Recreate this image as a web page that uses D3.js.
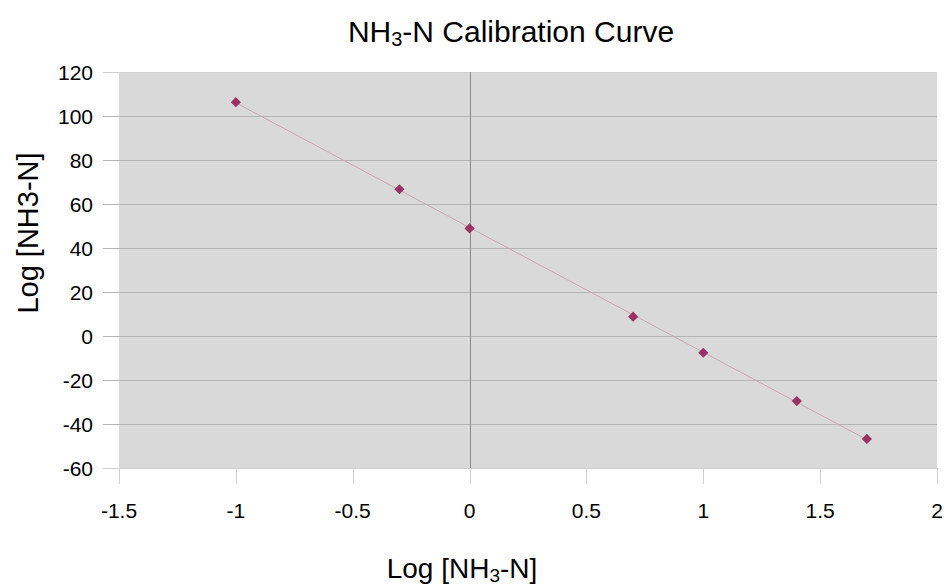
<!DOCTYPE html>
<html>
<head>
<meta charset="utf-8">
<script src="https://cdn.jsdelivr.net/npm/d3@7"></script>
<style>
  body { margin: 0; background: #fff; overflow: hidden; }
  svg { display: block; }
  text { font-family: "Liberation Sans", Arial, sans-serif; fill: #000; }
</style>
</head>
<body>
<div id="root"></div>
<script>
const logConc = [-1, -0.3, 0, 0.7, 1, 1.4, 1.7];
const signal = [106.3, 66.7, 48.9, 8.8, -7.6, -29.6, -46.8];
const xTicks = [-1.5, -1, -0.5, 0, 0.5, 1, 1.5, 2];
const yTicks = [-60, -40, -20, 0, 20, 40, 60, 80, 100, 120];

const data = logConc.map((x, i) => ({ x, y: signal[i] }));

const width = 947;
const height = 585;
const margin = { top: 72, right: 10, bottom: 117, left: 119 };
const innerWidth = 937 - margin.left;
const innerHeight = 468 - margin.top;

const svg = d3
  .select("#root")
  .append("svg")
  .attr("width", width)
  .attr("height", height)
  .attr("viewBox", `0 0 ${width} ${height}`);

const inner = svg
  .append("g")
  .attr("transform", `translate(${margin.left}, ${margin.top})`);

const xScale = d3.scaleLinear().domain([-1.5, 2]).range([0, innerWidth]);
const yScale = d3.scaleLinear().domain([-60, 120]).range([innerHeight, 0]);

// plot background
inner
  .append("rect")
  .attr("width", innerWidth)
  .attr("height", innerHeight)
  .attr("fill", "#d9d9d9");

// horizontal gridlines (extend out as tick marks)
inner
  .selectAll("line.hgrid")
  .data(yTicks)
  .join("line")
  .attr("class", "hgrid")
  .attr("x1", -16)
  .attr("x2", innerWidth)
  .attr("y1", (d) => Math.round(yScale(d)) + 0.5)
  .attr("y2", (d) => Math.round(yScale(d)) + 0.5)
  .attr("stroke", (d) => (d === -60 || d === 120 ? "#d0d0d0" : "#b4b4b4"))
  .attr("stroke-width", 1);

// x tick marks below plot
inner
  .selectAll("line.xtick")
  .data(xTicks)
  .join("line")
  .attr("class", "xtick")
  .attr("x1", (d) => Math.round(xScale(d)) + 0.5)
  .attr("x2", (d) => Math.round(xScale(d)) + 0.5)
  .attr("y1", innerHeight)
  .attr("y2", innerHeight + 16)
  .attr("stroke", "#d0d0d0");

// zero axis line
inner
  .append("line")
  .attr("x1", Math.round(xScale(0)) + 0.5)
  .attr("x2", Math.round(xScale(0)) + 0.5)
  .attr("y1", 0)
  .attr("y2", innerHeight)
  .attr("stroke", "#8c8c8c");

// linear trendline (least squares)
const mx = d3.mean(data, (d) => d.x);
const my = d3.mean(data, (d) => d.y);
const slope =
  d3.sum(data, (d) => (d.x - mx) * (d.y - my)) /
  d3.sum(data, (d) => (d.x - mx) ** 2);
const intercept = my - slope * mx;
const [x0, x1] = d3.extent(logConc);
inner
  .append("line")
  .attr("x1", xScale(x0))
  .attr("y1", yScale(slope * x0 + intercept))
  .attr("x2", xScale(x1))
  .attr("y2", yScale(slope * x1 + intercept))
  .attr("stroke", "#c8a8b4")
  .attr("stroke-width", 1);

// markers
inner
  .selectAll("path.pt")
  .data(data)
  .join("path")
  .attr("class", "pt")
  .attr("d", d3.symbol(d3.symbolDiamond2, 66))
  .attr("transform", (d) => `translate(${xScale(d.x)}, ${yScale(d.y)})`)
  .attr("fill", "#993366");

// y tick labels
inner
  .selectAll("text.ylab")
  .data(yTicks)
  .join("text")
  .attr("class", "ylab")
  .text((d) => d)
  .attr("x", -26)
  .attr("y", (d) => yScale(d))
  .attr("dy", "0.36em")
  .attr("text-anchor", "end")
  .attr("font-size", 21);

// x tick labels
inner
  .selectAll("text.xlab")
  .data(xTicks)
  .join("text")
  .attr("class", "xlab")
  .text((d) => d)
  .attr("x", (d) => xScale(d))
  .attr("y", innerHeight + 50)
  .attr("text-anchor", "middle")
  .attr("font-size", 21);

// title
const title = svg
  .append("text")
  .attr("x", 511)
  .attr("y", 42)
  .attr("text-anchor", "middle")
  .attr("font-size", 30);
title.append("tspan").text("NH");
title.append("tspan").text("3").attr("font-size", 20).attr("dy", 4);
title.append("tspan").text("-N Calibration Curve").attr("dy", -4);

// x axis title
const xt = svg
  .append("text")
  .attr("x", 462)
  .attr("y", 578)
  .attr("text-anchor", "middle")
  .attr("font-size", 28);
xt.append("tspan").text("Log [NH");
xt.append("tspan").text("3").attr("font-size", 19).attr("dy", 4);
xt.append("tspan").text("-N]").attr("dy", -4);

// y axis title
svg
  .append("text")
  .attr("transform", "translate(38, 233) rotate(-90)")
  .attr("text-anchor", "middle")
  .attr("font-size", 29)
  .text("Log [NH3-N]");
</script>
</body>
</html>
